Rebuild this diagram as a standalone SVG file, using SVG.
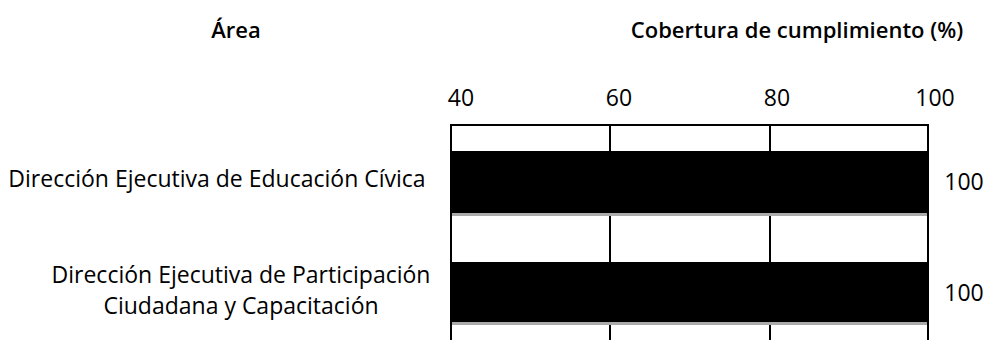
<svg xmlns="http://www.w3.org/2000/svg" width="987" height="340" viewBox="0 0 987 340">
<style>
text{font-family:"Open Sans","Liberation Sans",sans-serif;font-size:23px;fill:#000}
.b{font-weight:600;font-size:22px}
.bar{fill:#000}
.grid{stroke:#000;stroke-width:2;fill:none}
.spk{fill:#aaa}
</style>
<rect width="987" height="340" fill="#fff"/>
<text class="b" x="236" y="38" text-anchor="middle">Área</text>
<text class="b" x="797" y="38" text-anchor="middle">Cobertura de cumplimiento (%)</text>
<g id="axis">
<text x="461" y="106" text-anchor="middle">40</text>
<text x="619" y="106" text-anchor="middle">60</text>
<text x="777" y="106" text-anchor="middle">80</text>
<text x="935" y="106" text-anchor="middle">100</text>
</g>
<g id="frame">
<path class="grid" d="M451,340 V125 H928 V340 M610,125 V340 M770,125 V340"/>
</g>
<g id="row1">
<text x="217" y="187" text-anchor="middle">Dirección Ejecutiva de Educación Cívica</text>
<rect class="bar" x="450" y="151" width="479" height="62"/>
<rect class="spk" x="452" y="213" width="475" height="3"/>
<text x="964" y="190" text-anchor="middle">100</text>
</g>
<g id="row2">
<text x="241" y="283" text-anchor="middle">Dirección Ejecutiva de Participación</text>
<text x="241" y="314" text-anchor="middle">Ciudadana y Capacitación</text>
<rect class="bar" x="450" y="262" width="479" height="60"/>
<rect class="spk" x="452" y="322" width="475" height="3"/>
<text x="964" y="301" text-anchor="middle">100</text>
</g>
</svg>
